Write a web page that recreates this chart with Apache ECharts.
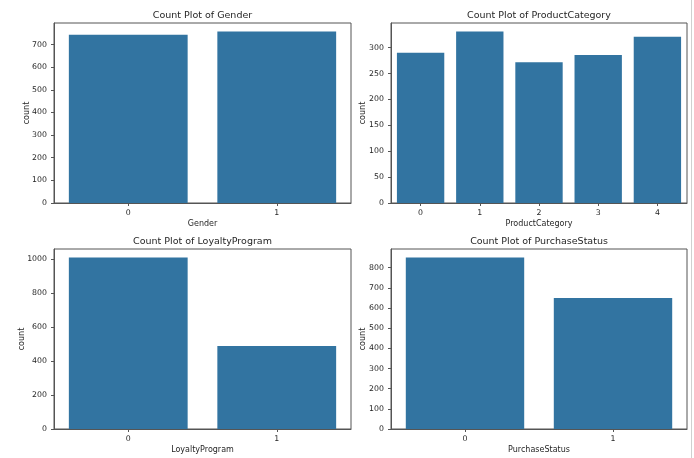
<!DOCTYPE html>
<html>
<head>
<meta charset="utf-8">
<script src="https://cdn.jsdelivr.net/npm/echarts@6/dist/echarts.min.js"></script>
<style>
  html, body { margin: 0; padding: 0; background: #fff; }
  #chart { width: 694px; height: 458px; }
</style>
</head>
<body>
<div id="chart"></div>
<script>
// Count plots of four categorical columns
const genderCats = ['0', '1'];
const genderCounts = [743, 757];
const genderTicks = [0, 100, 200, 300, 400, 500, 600, 700];

const productCats = ['0', '1', '2', '3', '4'];
const productCounts = [290, 331, 272, 286, 321];
const productTicks = [0, 50, 100, 150, 200, 250, 300];

const loyaltyCats = ['0', '1'];
const loyaltyCounts = [1011, 489];
const loyaltyTicks = [0, 200, 400, 600, 800, 1000];

const purchaseCats = ['0', '1'];
const purchaseCounts = [850, 650];
const purchaseTicks = [0, 100, 200, 300, 400, 500, 600, 700, 800];

const FONT = '"DejaVu Sans", sans-serif';
const TEXT = '#262626';
const FRAME = '#555555';
const BAR = '#3274a1';
const TICK_SIZE = 7.8;
const LABEL_SIZE = 8;
const TITLE_SIZE = 9.5;

const panels = [
  { title: 'Count Plot of Gender', xName: 'Gender', cats: genderCats, vals: genderCounts, ticks: genderTicks,
    box: { left: 54, top: 23, width: 297, height: 180 }, yGap: 23 },
  { title: 'Count Plot of ProductCategory', xName: 'ProductCategory', cats: productCats, vals: productCounts, ticks: productTicks,
    box: { left: 391, top: 23, width: 296, height: 180 }, yGap: 24 },
  { title: 'Count Plot of LoyaltyProgram', xName: 'LoyaltyProgram', cats: loyaltyCats, vals: loyaltyCounts, ticks: loyaltyTicks,
    box: { left: 54, top: 249, width: 297, height: 180 }, yGap: 28 },
  { title: 'Count Plot of PurchaseStatus', xName: 'PurchaseStatus', cats: purchaseCats, vals: purchaseCounts, ticks: purchaseTicks,
    box: { left: 391, top: 249, width: 296, height: 180 }, yGap: 24 }
];

const grid = [], xAxis = [], yAxis = [], series = [], title = [];
panels.forEach((p, i) => {
  grid.push(Object.assign({ show: true, borderColor: FRAME, borderWidth: 1, backgroundColor: 'transparent', containLabel: false }, p.box));
  title.push({
    text: p.title, left: p.box.left + p.box.width / 2, top: p.box.top - 12, textAlign: 'center', padding: 0,
    textStyle: { fontFamily: FONT, fontSize: TITLE_SIZE, fontWeight: 'normal', color: TEXT }
  });
  xAxis.push({
    type: 'category', gridIndex: i, data: p.cats, boundaryGap: true, z: 5,
    name: p.xName, nameLocation: 'middle', nameGap: 17, nameMoveOverlap: false,
    nameTextStyle: { fontFamily: FONT, fontSize: LABEL_SIZE, color: TEXT },
    axisLine: { show: true, lineStyle: { color: FRAME, width: 1 } },
    axisTick: { show: true, alignWithLabel: true, length: 3, lineStyle: { color: FRAME } },
    axisLabel: { fontFamily: FONT, fontSize: TICK_SIZE, color: TEXT, margin: 6 },
    splitLine: { show: false }
  });
  // seaborn leaves 5% headroom above the tallest bar
  const top = Math.max.apply(null, p.vals) * 1.05;
  yAxis.push({
    type: 'value', gridIndex: i, min: 0, max: top,
    name: 'count', nameLocation: 'middle', nameGap: p.yGap, nameRotate: 90, nameMoveOverlap: false,
    nameTextStyle: { fontFamily: FONT, fontSize: LABEL_SIZE, color: TEXT },
    axisLine: { show: true, lineStyle: { color: FRAME, width: 1 } },
    axisTick: { show: true, length: 3, lineStyle: { color: FRAME }, customValues: p.ticks },
    axisLabel: { fontFamily: FONT, fontSize: TICK_SIZE, color: TEXT, margin: 7, customValues: p.ticks,
                 formatter: v => String(v) },
    splitLine: { show: false }
  });
  series.push({
    type: 'bar', xAxisIndex: i, yAxisIndex: i, data: p.vals, barCategoryGap: '20%',
    itemStyle: { color: BAR }, silent: true
  });
});

const chart = echarts.init(document.getElementById('chart'), null, { renderer: 'canvas' });
chart.setOption({
  animation: false,
  backgroundColor: '#ffffff',
  title, grid, xAxis, yAxis, series,
  graphic: [{
    type: 'line', shape: { x1: 691.5, y1: 0, x2: 691.5, y2: 458 },
    style: { stroke: '#d0d0d0', lineWidth: 1 }, silent: true
  }]
});
</script>
</body>
</html>
